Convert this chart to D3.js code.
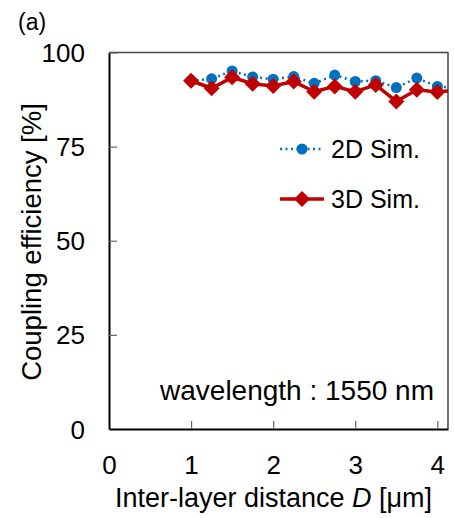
<!DOCTYPE html>
<html>
<head>
<meta charset="utf-8">
<script src="https://cdn.jsdelivr.net/npm/d3@7"></script>
<style>
  body { margin: 0; background: #fff; }
  svg { display: block; font-family: "Liberation Sans", Arial, sans-serif; }
</style>
</head>
<body>
<svg id="chart" width="454" height="518"></svg>
<script>
// data
const distances = [1, 1.25, 1.5, 1.75, 2, 2.25, 2.5, 2.75, 3, 3.25, 3.5, 3.75, 4, 4.25];
const sim2d = [92.5, 93.0, 95.1, 93.5, 92.9, 93.6, 91.8, 94.0, 92.3, 92.5, 90.7, 93.2, 91.0, 90.5];
const sim3d = [92.5, 90.5, 93.4, 91.7, 91.1, 92.3, 89.6, 91.0, 89.6, 91.4, 87.0, 90.1, 89.5, 90.0];
const xTicks = [0, 1, 2, 3, 4];
const yTicks = [0, 25, 50, 75, 100];
const seriesNames = ['2D Sim.', '3D Sim.'];

const svg = d3.select('#chart');
const cs = {
  left: 109, right: 448, top: 52.5, bottom: 429,
  blue: '#0070c0',
  red: '#c00000',
  tickFont: 26,
  legendFont: 25,
  titleFont: 27.5,
};

const x = d3.scaleLinear().domain([0, 4.13]).range([cs.left, cs.right]);
const y = d3.scaleLinear().domain([0, 100]).range([cs.bottom, cs.top]);

svg.append('clipPath').attr('id', 'plot-clip')
  .append('rect')
  .attr('x', cs.left).attr('y', cs.top)
  .attr('width', cs.right - cs.left).attr('height', cs.bottom - cs.top);

// frame (top / right)
svg.append('path')
  .attr('d', `M${cs.left},${cs.top}H${cs.right}V${cs.bottom}`)
  .attr('fill', 'none').attr('stroke', '#444').attr('stroke-width', 1.5);

// axes
const xAxis = d3.axisBottom(x).tickValues(xTicks).tickFormat(d3.format('d'))
  .tickSizeInner(-8).tickSizeOuter(0);
const yAxis = d3.axisLeft(y).tickValues(yTicks).tickFormat(d3.format('d'))
  .tickSizeInner(-8).tickSizeOuter(0);

const gx = svg.append('g').attr('transform', `translate(0,${cs.bottom})`).call(xAxis);
const gy = svg.append('g').attr('transform', `translate(${cs.left},0)`).call(yAxis);
[gx, gy].forEach((g) => {
  g.select('.domain').attr('stroke', '#000').attr('stroke-width', 2);
  g.selectAll('.tick line').attr('stroke', '#666').attr('stroke-width', 1.2);
  g.selectAll('.tick text').attr('font-size', cs.tickFont).attr('fill', '#000')
    .attr('font-family', '"Liberation Sans", Arial, sans-serif');
});
gx.selectAll('.tick text').attr('y', 45).attr('dy', null);
gy.selectAll('.tick text').attr('x', -24).attr('dy', '0.35em');
gx.selectAll('.tick line').filter(d => d === 0).remove();
gy.selectAll('.tick line').filter(d => d === 0).remove();

// series
const pts2d = distances.map((d, i) => ({ d, v: sim2d[i] }));
const pts3d = distances.map((d, i) => ({ d, v: sim3d[i] }));
const line = d3.line().x(p => x(p.d)).y(p => y(p.v));

const plot = svg.append('g').attr('clip-path', 'url(#plot-clip)');

plot.append('path').datum(pts2d)
  .attr('d', line).attr('fill', 'none')
  .attr('stroke', cs.blue).attr('stroke-width', 2.5)
  .attr('stroke-dasharray', '2,3.5');
plot.selectAll('circle.s2d').data(pts2d).enter().append('circle')
  .attr('class', 's2d')
  .attr('cx', p => x(p.d)).attr('cy', p => y(p.v))
  .attr('r', 5.5).attr('fill', cs.blue);

plot.append('path').datum(pts3d)
  .attr('d', line).attr('fill', 'none')
  .attr('stroke', cs.red).attr('stroke-width', 3.5);
const diamond = d3.symbol().type(d3.symbolSquare).size(128);
plot.selectAll('path.s3d').data(pts3d).enter().append('path')
  .attr('class', 's3d')
  .attr('d', diamond)
  .attr('transform', p => `translate(${x(p.d)},${y(p.v)}) rotate(45)`)
  .attr('fill', cs.red);

// legend
const legend = svg.append('g');
const legendRows = [
  { name: seriesNames[0], y: 149, color: cs.blue, dash: '2,3.5', w: 2.5, marker: 'circle' },
  { name: seriesNames[1], y: 199, color: cs.red, dash: null, w: 3.5, marker: 'diamond' },
];
legendRows.forEach((r) => {
  legend.append('line')
    .attr('x1', 280).attr('x2', 324).attr('y1', r.y).attr('y2', r.y)
    .attr('stroke', r.color).attr('stroke-width', r.w)
    .attr('stroke-dasharray', r.dash);
  if (r.marker === 'circle') {
    legend.append('circle').attr('cx', 302).attr('cy', r.y).attr('r', 5.5).attr('fill', r.color);
  } else {
    legend.append('path').attr('d', diamond)
      .attr('transform', `translate(302,${r.y}) rotate(45)`).attr('fill', r.color);
  }
  legend.append('text')
    .attr('x', 331).attr('y', r.y + 9)
    .attr('font-size', cs.legendFont).text(r.name);
});

// annotation
svg.append('text')
  .attr('x', 434).attr('y', 400).attr('text-anchor', 'end')
  .attr('font-size', 28).text('wavelength : 1550 nm');

// titles
svg.append('text')
  .attr('transform', 'translate(40.5,242) rotate(-90)')
  .attr('text-anchor', 'middle').attr('font-size', cs.titleFont)
  .text('Coupling efficiency [%]');

const xt = svg.append('text')
  .attr('x', 273.5).attr('y', 507).attr('text-anchor', 'middle')
  .attr('font-size', 27);
xt.append('tspan').text('Inter-layer distance ');
xt.append('tspan').attr('font-style', 'italic').text('D');
xt.append('tspan').text(' [μm]');

svg.append('text')
  .attr('x', 18).attr('y', 30).attr('font-size', 23).text('(a)');
</script>
</body>
</html>
